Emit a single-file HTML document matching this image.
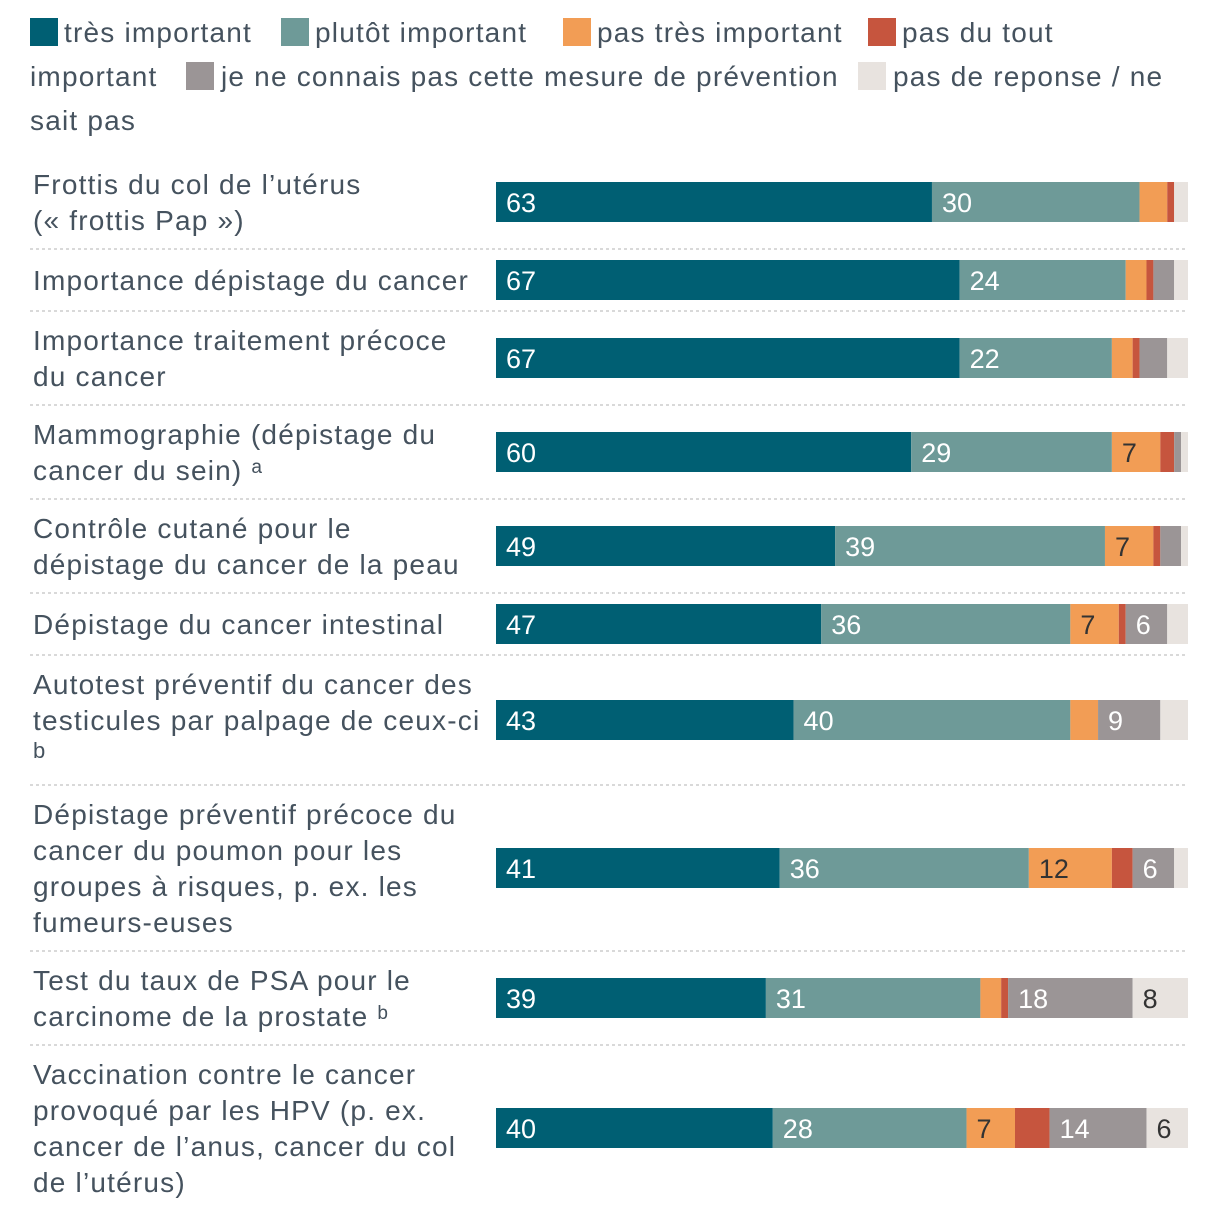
<!DOCTYPE html>
<html><head><meta charset="utf-8">
<style>
html,body{margin:0;padding:0;background:#fff;}
svg{display:block;font-family:"Liberation Sans",sans-serif;}
</style></head>
<body>
<svg id="chart" width="1220" height="1210" viewBox="0 0 1220 1210" xmlns="http://www.w3.org/2000/svg">
<g id="legend" font-size="28" fill="#45525e" letter-spacing="1.2">
  <g><rect x="30" y="18" width="28" height="28" fill="#005f73"/><text x="64" y="42">très important</text></g>
  <g><rect x="281" y="18" width="28" height="28" fill="#6e9a98"/><text x="315" y="42">plutôt important</text></g>
  <g><rect x="563" y="18" width="28" height="28" fill="#f29d55"/><text x="597" y="42">pas très important</text></g>
  <g><rect x="868" y="18" width="28" height="28" fill="#c6553e"/><text x="902" y="42">pas du tout</text><text x="30" y="86">important</text></g>
  <g><rect x="186" y="62" width="28" height="28" fill="#9b9596"/><text x="221" y="86">je ne connais pas cette mesure de prévention</text></g>
  <g><rect x="858" y="62" width="28" height="28" fill="#e8e3df"/><text x="893" y="86">pas de reponse / ne</text><text x="30" y="130">sait pas</text></g>
</g>
<g id="rows"></g>
</svg>
<script>
const categories = [
  ["Frottis du col de l’utérus","(« frottis Pap »)"],
  ["Importance dépistage du cancer"],
  ["Importance traitement précoce","du cancer"],
  ["Mammographie (dépistage du","cancer du sein) ᵃ"],
  ["Contrôle cutané pour le","dépistage du cancer de la peau"],
  ["Dépistage du cancer intestinal"],
  ["Autotest préventif du cancer des","testicules par palpage de ceux-ci","b"],
  ["Dépistage préventif précoce du","cancer du poumon pour les","groupes à risques, p. ex. les","fumeurs-euses"],
  ["Test du taux de PSA pour le","carcinome de la prostate ᵇ"],
  ["Vaccination contre le cancer","provoqué par les HPV (p. ex.","cancer de l’anus, cancer du col","de l’utérus)"]
];
const tresImportant   = [63,67,67,60,49,47,43,41,39,40];
const plutotImportant = [30,24,22,29,39,36,40,36,31,28];
const pasTresImportant= [4,3,3,7,7,7,4,12,3,7];
const pasDuTout       = [1,1,1,2,1,1,0,3,1,5];
const neConnaisPas    = [0,3,4,1,3,6,9,6,18,14];
const pasDeReponse    = [2,2,3,1,1,3,4,2,8,6];
const seriesNames = ["tres-important","plutot-important","pas-tres-important","pas-du-tout","ne-connais-pas","pas-de-reponse"];
const series = [tresImportant,plutotImportant,pasTresImportant,pasDuTout,neConnaisPas,pasDeReponse];
const colors = ["#005f73","#6e9a98","#f29d55","#c6553e","#9b9596","#e8e3df"];
const textColors = ["#fff","#fff","#333","#333","#fff","#333"];

const ns="http://www.w3.org/2000/svg";
const X0=496, X1=1188;
const xScale = v => X0 + v/100*(X1-X0);
const LH=36;
const rowH = n => n===1 ? 62 : (n===2 ? 94 : (n===3 ? 130 : 166));
const g=document.getElementById('rows');
function mk(tag,attrs){const e=document.createElementNS(ns,tag);for(const k in attrs)e.setAttribute(k,attrs[k]);return e;}
let y=155;
categories.forEach((lines,i)=>{
  const n=lines.length;
  const h=rowH(n);
  const cy=y+h/2;
  const row=mk('g',{});
  
  
  lines.forEach((ln,j)=>{
    const small = ln==="b";
    const lc = cy + (j-(n-1)/2)*LH;
    const t=mk('text',{x:33,y:small?lc+2:lc+10,'font-size':small?22:28,fill:'#45525e','letter-spacing':small?0:1.2});
    
    
    t.textContent=ln;
    row.appendChild(t);
  });
  let acc=0;
  series.forEach((s,k)=>{
    const v=s[i];
    if(v>0){
      const x=xScale(acc), w=xScale(acc+v)-x;
      const r=mk('rect',{x:x,y:cy-20,width:w,height:40,fill:colors[k]});
      
      
      row.appendChild(r);
      if(v>=6){
        const t=mk('text',{x:x+10,y:cy+10,'font-size':27,fill:textColors[k]});
        
        
        t.textContent=v;
        row.appendChild(t);
      }
    }
    acc+=v;
  });
  g.appendChild(row);
  y+=h;
  if(i<categories.length-1){
    const l=mk('line',{x1:30,x2:1188,y1:y,y2:y,stroke:'#d9d9d9','stroke-width':2,'stroke-dasharray':'3,3'});
    
    
    g.appendChild(l);
  }
});
</script>
</body></html>
